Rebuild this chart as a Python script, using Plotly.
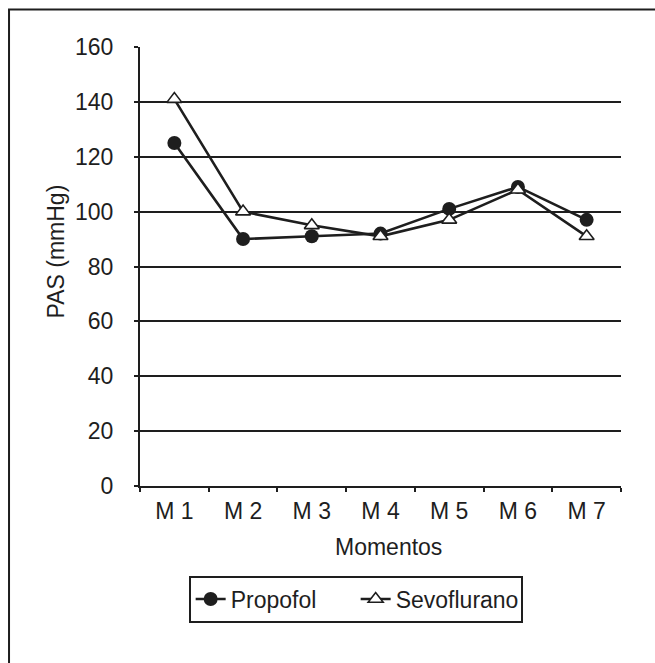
import plotly.graph_objects as go

# Momentos de medida e pressão arterial sistólica (mmHg) por grupo
momentos = ["M 1", "M 2", "M 3", "M 4", "M 5", "M 6", "M 7"]
propofol = [125, 90, 91, 92, 101, 109, 97]
sevoflurano = [141, 100, 95, 91, 97, 108, 91]
y_ticks = [0, 20, 40, 60, 80, 100, 120, 140, 160]

FONT = "Liberation Sans, Arial, sans-serif"
INK = "#1e1e1e"

fig = go.Figure()
fig.add_trace(go.Scatter(
    x=momentos, y=propofol, name="Propofol", mode="lines+markers",
    line=dict(color=INK, width=2.6),
    marker=dict(symbol="circle", size=14, color=INK, line=dict(width=0)),
))
fig.add_trace(go.Scatter(
    x=momentos, y=sevoflurano, name="Sevoflurano", mode="lines+markers",
    line=dict(color=INK, width=2.6),
    marker=dict(symbol="triangle-up", size=13, color="white",
                line=dict(color=INK, width=1.6)),
))

fig.update_layout(
    width=655, height=663,
    margin=dict(l=140, r=34, t=47, b=177),
    paper_bgcolor="white", plot_bgcolor="white",
    font=dict(family=FONT, size=23, color=INK),
    showlegend=True,
    legend=dict(
        orientation="h", x=0.102, xanchor="left", y=-0.205, yanchor="top",
        bordercolor=INK, borderwidth=1.6, bgcolor="white",
        font=dict(size=23, color=INK), itemwidth=30,
        entrywidth=120, entrywidthmode="pixels",
    ),
    xaxis=dict(
        type="category", range=[-0.5, 6.5], tickson="boundaries",
        ticks="outside", ticklen=4, tickcolor=INK, tickwidth=1.5,
        showline=True, linecolor=INK, linewidth=2, showgrid=False,
        ticklabelstandoff=3,
    ),
    yaxis=dict(
        range=[0, 160], tickvals=y_ticks, ticks="outside", ticklen=4,
        tickcolor=INK, tickwidth=1.5, showline=True, linecolor=INK,
        linewidth=2, showgrid=True, gridcolor=INK, gridwidth=1.6,
        zeroline=False, ticklabelstandoff=16,
    ),
    annotations=[
        dict(text="Momentos", xref="paper", yref="paper", x=0.517, y=-0.14,
             xanchor="center", yanchor="middle", showarrow=False,
             font=dict(size=23, color=INK)),
        dict(text="PAS (mmHg)", xref="paper", yref="paper", x=-0.174, y=0.535,
             xanchor="center", yanchor="middle", textangle=-90, showarrow=False,
             font=dict(size=23, color=INK)),
    ],
    shapes=[
        dict(type="rect", xref="paper", yref="paper",
             x0=-0.2723, x1=1.2, y0=-0.5, y1=1.0855,
             line=dict(color=INK, width=2), layer="below"),
    ],
)

fig.write_html("out.html")
